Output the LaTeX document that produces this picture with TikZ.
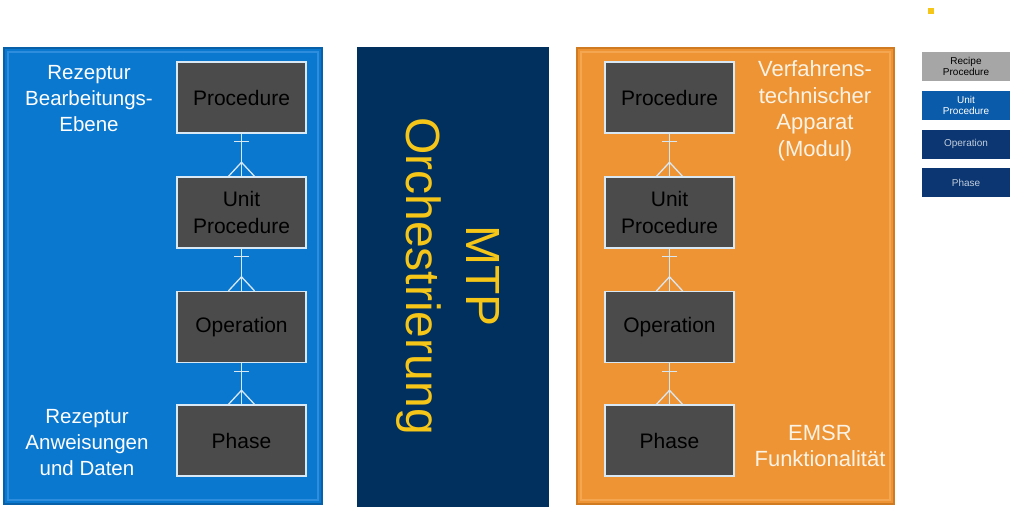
\documentclass[tikz,border=0pt]{standalone}
\usepackage{fontspec}
\setmainfont{Liberation Sans}
\usetikzlibrary{calc}
\definecolor{pblue}{HTML}{0B78D0}
\definecolor{pblueedge}{HTML}{2E8DDC}
\definecolor{pbluedark}{HTML}{0860A8}
\definecolor{porange}{HTML}{EE9434}
\definecolor{porangeedge}{HTML}{F4A650}
\definecolor{porangedark}{HTML}{D07A22}
\definecolor{pnavy}{HTML}{01305F}
\definecolor{boxgrey}{HTML}{4B4B4B}
\definecolor{boxedge}{HTML}{D8E8F4}
\definecolor{mtpyellow}{HTML}{F5C518}
\definecolor{leggrey}{HTML}{A6A6A6}
\definecolor{legblue}{HTML}{0A5BAA}
\definecolor{legnavy}{HTML}{0B3672}
\definecolor{labelcream}{HTML}{FAF3E6}
\tikzset{
  procbox/.style={draw=boxedge, fill=boxgrey, line width=1.4pt, minimum width=129pt, minimum height=71pt, align=center, inner sep=0pt, font=\fontsize{21}{27}\selectfont, text=black},
  sidelabel/.style={align=center, text=white, font=\fontsize{20.5}{26}\selectfont, inner sep=0pt},
  sidelabelr/.style={align=center, text=labelcream, font=\fontsize{22}{26.5}\selectfont, inner sep=0pt},
  legbox/.style={minimum width=88pt, minimum height=29pt, inner sep=0pt, align=center, font=\fontsize{10}{11.5}\selectfont},
  link/.style={draw=boxedge, line width=1.3pt}
}
\newcommand{\crowlink}[2]{%
  \draw[link] (#1.south) -- (#2.north);
  \draw[link] ($(#1.south)+(-7.5,8)$) -- ($(#1.south)+(7.5,8)$);
  \draw[link] ($(#2.north)+(-13,0)$) -- ($(#2.north)+(0,-14)$) -- ($(#2.north)+(13,0)$);
}
\begin{document}
\begin{tikzpicture}[x=1pt,y=-1pt]
\useasboundingbox (0,0) rectangle (1024,507);
\fill[white] (0,0) rectangle (1024,507);
% panels
\fill[pbluedark] (3,47) rectangle (323,505);
\fill[pblue] (5,49) rectangle (321,503);
\draw[pblueedge, line width=1.5pt] (8,52) rectangle (318,500);
\fill[pnavy] (357,47) rectangle (549,507);
\fill[porangedark] (576,47) rectangle (895,505);
\fill[porange] (578,49) rectangle (893,503);
\draw[porangeedge, line width=1.5pt] (581,52) rectangle (890,500);
% left column
\node[procbox] (lp) at (241.5,97.5) {Procedure};
\node[procbox] (lu) at (241.5,212.5) {Unit\\Procedure};
\node[procbox] (lo) at (241.5,327) {Operation};
\node[procbox] (lph) at (241.5,440.5) {Phase};
\crowlink{lp}{lu}
\crowlink{lu}{lo}
\crowlink{lo}{lph}
% right column
\node[procbox] (rp) at (669.5,97.5) {Procedure};
\node[procbox] (ru) at (669.5,212.5) {Unit\\Procedure};
\node[procbox] (ro) at (669.5,327) {Operation};
\node[procbox] (rph) at (669.5,440.5) {Phase};
\crowlink{rp}{ru}
\crowlink{ru}{ro}
\crowlink{ro}{rph}
% side labels
\node[sidelabel] (l1) at (89,99) {Rezeptur\\Bearbeitungs-\\Ebene};
\node[sidelabel] (l2) at (87,443) {Rezeptur\\Anweisungen\\und Daten};
\node[sidelabelr] (r1) at (815,111) {Verfahrens-\\technischer\\Apparat\\(Modul)};
\node[sidelabelr] (r2) at (820,446) {EMSR\\Funktionalität};
% MTP
\node[rotate=-90, text=mtpyellow, align=center, font=\fontsize{48}{60}\selectfont, inner sep=0pt] (mtp) at (448,276) {MTP\\Orchestrierung};
% legend
\fill[mtpyellow] (928,8) rectangle (934,14);
\node[legbox, fill=leggrey, text=black] (g1) at (966,66.5) {Recipe\\Procedure};
\node[legbox, fill=legblue, text=white] (g2) at (966,105.5) {Unit\\Procedure};
\node[legbox, fill=legnavy, text=white!75!legnavy] (g3) at (966,144) {Operation};
\node[legbox, fill=legnavy, text=white!75!legnavy] (g4) at (966,182.5) {Phase};
\end{tikzpicture}
\end{document}
